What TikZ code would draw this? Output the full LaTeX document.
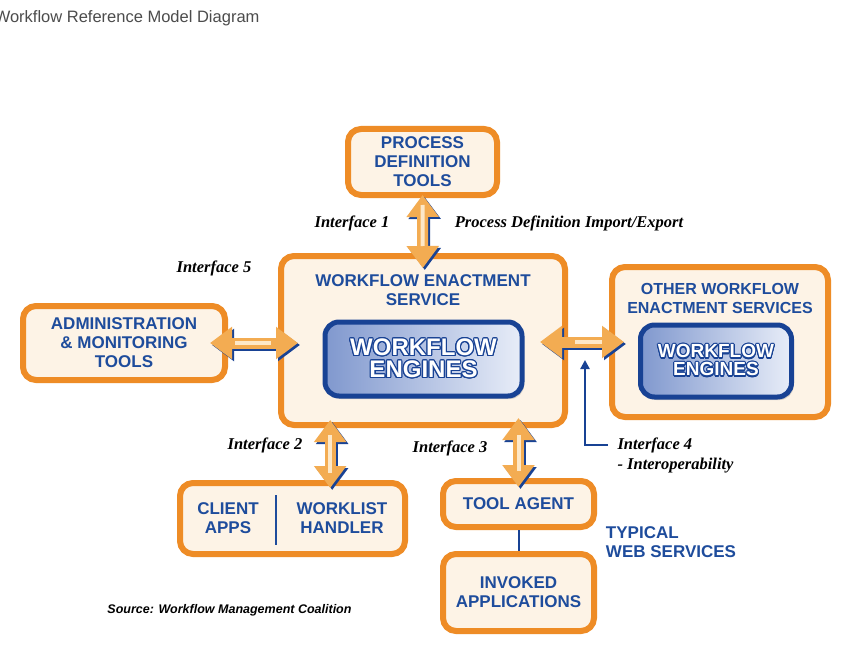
\documentclass[tikz,border=0pt]{standalone}
\usepackage{fontspec}
\setmainfont{Liberation Serif}
\setsansfont{Liberation Sans}
\usepackage{contour}
\contourlength{1.1pt}
\usetikzlibrary{calc,arrows.meta,shadows}
\definecolor{wfOrange}{RGB}{238,140,38}
\definecolor{wfCream}{RGB}{253,243,230}
\definecolor{wfBlue}{RGB}{30,76,156}
\definecolor{wfDark}{RGB}{24,66,148}
\definecolor{wfArrow}{RGB}{243,172,82}
\definecolor{wfShine}{RGB}{253,232,200}
\definecolor{wfEngL}{RGB}{128,152,206}
\definecolor{wfEngR}{RGB}{232,237,248}
\tikzset{%
	boxtext/.style={text=wfBlue, align=center, font=\sffamily\bfseries\fontsize{17}{19}\selectfont},
	box/.style={boxtext, draw=wfOrange, fill=wfCream, line width=6pt, rounded corners=13pt, inner sep=0pt},
	engine/.style={draw=wfDark, line width=5pt, rounded corners=14pt, left color=wfEngL, right color=wfEngR, text=white, align=center, inner sep=0pt, drop shadow={shadow xshift=2pt, shadow yshift=-3pt, opacity=0.3}},
	iface/.style={font=\bfseries\itshape\fontsize{16.5}{18}\selectfont},
	ifbody/.style={draw=wfArrow, line width=11pt, >={Triangle[width=31pt,length=22pt]}, <->},
	ifshade/.style={ifbody, draw=wfDark, transform canvas={shift={(2,2)}}},
	ifshine/.style={draw=wfShine, line width=4pt, shorten <=7pt, shorten >=7pt}
}
\newcommand{\iarrow}[3]{%
	\draw[ifshade,#1] #2 -- #3;
	\draw[ifbody,#1] #2 -- #3;
	\draw[ifshine] #2 -- #3;}

\begin{document}
\begin{tikzpicture}[x=1pt, y=-1pt]
	\path[use as bounding box, fill=white] (0,0) rectangle (857,650);
	\node[anchor=base east, text=black!70, font=\sffamily\fontsize{16.5}{18}\selectfont] (title) at (263,23) {Workflow Reference Model Diagram};
	% boxes
	\node[box, minimum width=149pt, minimum height=66pt] (pdt) at (422.5,162) {PROCESS\\DEFINITION\\TOOLS};
	\node[box, minimum width=284pt, minimum height=169pt] (wes) at (423,340.5) {};
	\node[box, minimum width=202pt, minimum height=74pt] (adm) at (124,343) {ADMINISTRATION\\\& MONITORING\\TOOLS};
	\node[box, minimum width=216pt, minimum height=150pt] (oth) at (720,342) {};
	\node[box, minimum width=225pt, minimum height=71pt] (cwa) at (292.5,518.5) {};
	\node[box, minimum width=151pt, minimum height=46pt] (ta) at (518.5,504) {TOOL AGENT};
	\node[box, minimum width=151pt, minimum height=77pt] (inv) at (518.5,592.5) {INVOKED\\APPLICATIONS};
	\node[boxtext] (wesl) at (423,290) {WORKFLOW ENACTMENT\\SERVICE};
	\node[boxtext, font=\sffamily\bfseries\fontsize{16}{19}\selectfont] (othl) at (720,298) {OTHER WORKFLOW\\ENACTMENT SERVICES};
	\node[engine, minimum width=197pt, minimum height=74pt, font=\sffamily\bfseries\fontsize{24}{22}\selectfont] (eng) at (423.5,359) {\contour{wfDark}{WORKFLOW}\\\contour{wfDark}{ENGINES}};
	\node[engine, minimum width=151pt, minimum height=72pt, font=\sffamily\bfseries\fontsize{19}{18}\selectfont] (oeng) at (716,361) {\contour{wfDark}{WORKFLOW}\\\contour{wfDark}{ENGINES}};
	\node[boxtext] (cli) at (228,518) {CLIENT\\APPS};
	\node[boxtext] (wlh) at (342,518) {WORKLIST\\HANDLER};
	\draw[wfBlue, line width=1.2pt] (276,495) -- (276,545);
	\draw[wfDark, line width=2pt] (ta) -- (inv);
	\node[boxtext, align=left] (web) at (671,542) {TYPICAL\\WEB SERVICES};
	% labels
	\node[iface] (i1) at (352,223) {Interface 1};
	\node[iface] (pdie) at (569,223) {Process Definition Import/Export};
	\node[iface] (i5) at (214,268) {Interface 5};
	\node[iface] (i2) at (265,445) {Interface 2};
	\node[iface] (i3) at (450,448) {Interface 3};
	\node[iface, anchor=west] (i4) at (614,445) {Interface 4};
	\node[iface, anchor=west] (i4b) at (614,466) {- Interoperability};
	\node[font=\sffamily\bfseries\itshape\fontsize{12.5}{14}\selectfont] (src) at (229.5,610) {Source: Workflow Management Coalition};
	% interfaces
	\coordinate (i2top) at ($(wes.south west)!0.18!(wes.south east)$);
	\coordinate (i4tip) at (585,360);
	\iarrow{shorten <=-3pt, shorten >=-15pt}{(pdt)}{(wes)}
	\iarrow{shorten <=-18pt, shorten >=-20pt}{(adm.east)}{(adm.east -| wes.west)}
	\iarrow{shorten <=-28pt, shorten >=-15pt}{(wes.east |- oth.west)}{(oth.west)}
	\iarrow{shorten <=-8pt, shorten >=-8pt}{(i2top)}{(i2top |- cwa.north)}
	\iarrow{shorten <=-10pt, shorten >=-9pt}{(ta.north |- wes.south)}{(ta.north)}
	\draw[wfDark, line width=2.5pt, shorten <=6pt, -{Triangle[width=9pt,length=9pt]}] (i4.west) -| (i4tip);
\end{tikzpicture}
\end{document}
